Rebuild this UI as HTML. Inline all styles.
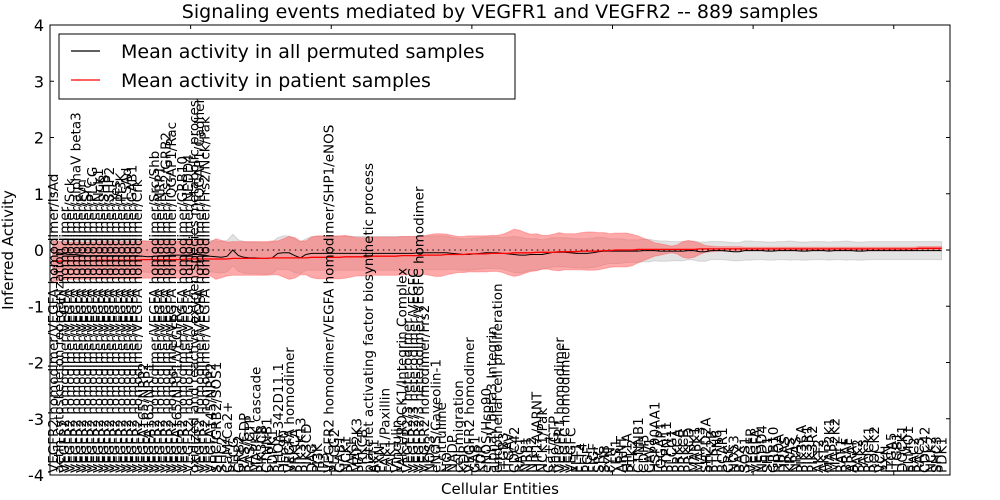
<!DOCTYPE html>
<html><head><meta charset="utf-8">
<style>
html,body{margin:0;padding:0;background:#fff;}
svg{display:block;font-family:"DejaVu Sans","Liberation Sans",sans-serif;}
</style></head>
<body>
<svg id="chart" width="1000" height="500" viewBox="0 0 1000 500" xmlns="http://www.w3.org/2000/svg">
<rect x="0" y="0" width="1000" height="500" fill="#fff"/>
<g id="plot"></g>
<text x="500" y="18" text-anchor="middle" font-size="19">Signaling events mediated by VEGFR1 and VEGFR2 -- 889 samples</text>
<text x="500" y="494" text-anchor="middle" font-size="15">Cellular Entities</text>
<text transform="translate(13,250) rotate(-90)" text-anchor="middle" font-size="15">Inferred Activity</text>
<g>
<rect x="59" y="34" width="456" height="65" fill="#fff" stroke="#000" stroke-width="1"/>
<line x1="71" y1="51" x2="100" y2="51" stroke="#000" stroke-width="1.2"/>
<text x="121" y="58" font-size="19">Mean activity in all permuted samples</text>
<line x1="71" y1="80" x2="100" y2="80" stroke="#f00" stroke-width="1.2"/>
<text x="121" y="87" font-size="19">Mean activity in patient samples</text>
</g>
</svg>
<script>
const labels = ["VEGFR2 homodimer/VEGFA homodimer/IsAd","actin cytoskeleton reorganization","VEGFR2 homodimer/VEGFA homodimer","VEGFR2 homodimer/VEGFA homodimer/Sck","VEGFR2 homodimer/VEGFA homodimer/alphaV beta3","VEGFR2 homodimer/VEGFA homodimer/Fyn","VEGFR2 homodimer/VEGFA homodimer/Src","VEGFR2 homodimer/VEGFA homodimer/PLCG","VEGFR2 homodimer/VEGFA homodimer/Nck1","VEGFR2 homodimer/VEGFA homodimer/SHB","VEGFR2 homodimer/VEGFA homodimer/SHP2","VEGFR2 homodimer/VEGFA homodimer/Yes","VEGFR2 homodimer/VEGFA homodimer/PI3K","VEGFR2 homodimer/VEGFA homodimer/TSAd","VEGFR2 homodimer/VEGFA homodimer/GAB1","VEGFR2 homodimer/VEGFA homodimer/Crk","VEGFA165/NRP2","VEGFA165/NRP1","VEGFR2 homodimer/VEGFA homodimer/Src/Shb","VEGFR2 homodimer/VEGFA homodimer/NRP1","VEGFR2 homodimer/VEGFA homodimer/Frs2/GRB2","VEGFR2 homodimer/VEGFA homodimer/IQGAP1/Rac","VEGFA165/NRP1/VEGFR2","VEGFR2 homodimer/VEGFA homodimer/GRB10","VEGFR2 homodimer/VEGFA homodimer/NEDD4","oxidized and reactive oxygen species metabolic process","VEGFR2 homodimer/VEGFA homodimer/IQGAP1/Cadherin","VEGFR2 homodimer/VEGFA homodimer/Frs2/Nck/Pak","VEGFA145/NRP2","SHC/GRB2/SOS1","SHC2","CaM/Ca2+","PLCG","GRB2","RAS/GDP","RAS/GTP","MAPKK cascade","PIK3CB","CTNNB1","PDPK1","RHOA-342D11.1","Hsp90","VEGFA homodimer","PRKCA","PIK3K13","PIK3CD","DAG","PI3K","IP3","VEGFR2 homodimer/VEGFA homodimer/SHP1/eNOS","PLCG2","GAB1","NCK1","PAK1","MAP2K3","PRKCB","platelet activating factor biosynthetic process","AKT1","PXN","FAK1/Paxillin","FAK1","Vinculin","FAK1/ROCK1/Integrin Complex","VEGFR2/3 heterodimer","VEGFR2/3 heterodimer/VEGFC","VEGFR2/3 heterodimer/VEGFC homodimer","VEGFR2 homodimer/Frs2","NOS3","eNOS/Caveolin-1","L-citrulline","NO","NADP","cell migration","KDR","VEGFR2 homodimer","GAB1","KDR","eNOS/Hsp90","alphaV beta3 Integrin","endothelial cell proliferation","ITGB3","ITGAV","CDC42","RAC1","NRP1","NRP2","HIF1A/ARNT","NCK1/Pak","Ca++","Rho/GTP","VEGFR1 homodimer","VEGFC homodimer","VEGFC","FLT1","FLT4","PGF","FIGF","SRC","SHB","FYN","YES1","ARNT","HIF1A","PTK2","CTNNB1","CDH5","CAV1","HSP90AA1","IQGAP1","PTPN11","PLCG1","PRKCA","PRKCB","PRKCD","MAPK1","MAPK3","SH2D2A","PTK2B","PTPN6","BCAR1","CRK","NOS3","BAX","SOS1","VEGFB","VEGFA","NEDD4","SHC1","GRB10","RHOA","HRAS","KRAS","NRAS","PIK3CA","PIK3R1","PIK3R2","AKT2","AKT3","MAP2K1","MAP2K2","RAF1","BRAF","ARAF","PAK2","PAK3","ROCK1","ROCK2","VCL","PXN","ITGA5","ITGB1","DOCK1","ELMO1","RAC2","RAC3","CDC42","NCK2","SHC3","PDK1","VEGFC","VEGFD","FLT1","KDR","FLT4","NRP1","VEGFB","NEDD4"];
const permMean = [-0.06,-0.05,-0.07,-0.08,-0.08,-0.09,-0.1,-0.1,-0.1,-0.1,-0.1,-0.1,-0.1,-0.1,-0.1,-0.1,-0.11,-0.12,-0.11,-0.1,-0.1,-0.09,-0.09,-0.09,-0.09,-0.08,-0.08,-0.09,-0.11,-0.12,-0.13,-0.11,0.0,-0.1,-0.13,-0.14,-0.14,-0.15,-0.15,-0.14,-0.06,-0.05,-0.05,-0.1,-0.14,-0.08,-0.06,-0.06,-0.06,-0.06,-0.06,-0.06,-0.06,-0.06,-0.06,-0.06,-0.06,-0.06,-0.06,-0.06,-0.06,-0.06,-0.06,-0.06,-0.06,-0.05,-0.05,-0.05,-0.05,-0.05,-0.05,-0.06,-0.07,-0.08,-0.08,-0.07,-0.06,-0.05,-0.05,-0.05,-0.06,-0.07,-0.08,-0.09,-0.09,-0.08,-0.08,-0.08,-0.06,-0.04,-0.04,-0.04,-0.05,-0.06,-0.06,-0.06,-0.05,-0.03,-0.02,-0.02,-0.02,-0.02,-0.02,-0.02,-0.02,-0.01,-0.01,-0.01,-0.02,-0.02,-0.02,-0.02,-0.02,-0.01,-0.01,-0.03,-0.03,-0.01,-0.01,-0.01,-0.02,-0.03,-0.03,-0.01,-0.01,-0.01,-0.01,-0.02,-0.02,-0.01,-0.01,-0.01,-0.01,-0.02,-0.02,-0.01,-0.01,-0.01,-0.02,-0.01,-0.01,-0.01,-0.01,-0.02,-0.02,-0.01,-0.01,-0.01,-0.01,-0.01,-0.01,-0.01,-0.01,-0.01,-0.01,-0.01,-0.01,-0.01,-0.01,-0.01,0.0];
const patientMean = [-0.2,-0.2,-0.19,-0.19,-0.19,-0.19,-0.19,-0.19,-0.18,-0.18,-0.18,-0.18,-0.18,-0.18,-0.18,-0.18,-0.17,-0.17,-0.17,-0.17,-0.17,-0.17,-0.17,-0.17,-0.16,-0.16,-0.16,-0.16,-0.16,-0.16,-0.16,-0.16,-0.15,-0.15,-0.15,-0.15,-0.15,-0.15,-0.15,-0.14,-0.14,-0.14,-0.14,-0.14,-0.14,-0.14,-0.13,-0.13,-0.13,-0.13,-0.13,-0.13,-0.12,-0.12,-0.12,-0.12,-0.12,-0.11,-0.11,-0.11,-0.11,-0.11,-0.1,-0.1,-0.1,-0.1,-0.09,-0.09,-0.09,-0.09,-0.08,-0.08,-0.08,-0.08,-0.07,-0.07,-0.07,-0.07,-0.06,-0.06,-0.06,-0.06,-0.05,-0.05,-0.05,-0.05,-0.04,-0.04,-0.04,-0.04,-0.03,-0.03,-0.03,-0.03,-0.02,-0.02,-0.02,-0.02,-0.01,-0.01,0.0,0.0,0.0,0.0,0.01,0.01,0.01,0.01,0.01,0.01,0.01,0.01,0.01,0.01,0.01,0.02,0.02,0.02,0.02,0.02,0.02,0.02,0.02,0.02,0.02,0.02,0.02,0.02,0.02,0.02,0.02,0.02,0.02,0.02,0.02,0.02,0.02,0.02,0.02,0.02,0.02,0.02,0.02,0.02,0.02,0.02,0.02,0.02,0.02,0.02,0.02,0.02,0.02,0.02,0.03,0.03,0.03,0.03,0.03,0.03,0.03];
const patientSpread = [0.36,0.35,0.34,0.33,0.33,0.33,0.33,0.33,0.33,0.33,0.33,0.33,0.33,0.33,0.33,0.33,0.33,0.33,0.33,0.33,0.33,0.33,0.33,0.33,0.33,0.33,0.33,0.33,0.3,0.36,0.33,0.3,0.3,0.3,0.3,0.3,0.3,0.3,0.3,0.3,0.3,0.34,0.38,0.36,0.3,0.3,0.36,0.38,0.38,0.38,0.38,0.38,0.38,0.36,0.34,0.34,0.34,0.34,0.34,0.34,0.34,0.34,0.34,0.34,0.34,0.34,0.34,0.36,0.38,0.38,0.36,0.34,0.32,0.32,0.32,0.32,0.32,0.32,0.32,0.32,0.34,0.38,0.42,0.4,0.36,0.33,0.33,0.3,0.3,0.32,0.34,0.32,0.32,0.32,0.33,0.34,0.34,0.33,0.32,0.3,0.3,0.3,0.3,0.28,0.24,0.2,0.16,0.12,0.1,0.08,0.06,0.08,0.14,0.16,0.14,0.1,0.06,0.05,0.04,0.04,0.04,0.04,0.04,0.03,0.03,0.03,0.03,0.03,0.03,0.03,0.03,0.03,0.03,0.03,0.03,0.03,0.03,0.03,0.03,0.03,0.03,0.03,0.03,0.03,0.03,0.03,0.03,0.03,0.03,0.03,0.03,0.03,0.03,0.03,0.03,0.03,0.03,0.03,0.03,0.03,0.03,0.03,0.03,0.03];
const permSpread = [0.3,0.28,0.28,0.28,0.28,0.28,0.28,0.28,0.28,0.28,0.28,0.28,0.28,0.28,0.28,0.28,0.28,0.28,0.28,0.28,0.28,0.28,0.28,0.28,0.28,0.28,0.28,0.28,0.28,0.28,0.28,0.28,0.28,0.28,0.28,0.28,0.28,0.28,0.28,0.28,0.28,0.3,0.3,0.3,0.28,0.28,0.3,0.3,0.3,0.3,0.3,0.3,0.3,0.3,0.3,0.3,0.3,0.3,0.3,0.3,0.3,0.3,0.3,0.3,0.3,0.3,0.3,0.3,0.3,0.3,0.3,0.28,0.28,0.28,0.28,0.28,0.28,0.28,0.28,0.28,0.28,0.3,0.32,0.32,0.3,0.28,0.28,0.26,0.26,0.26,0.26,0.26,0.26,0.26,0.26,0.26,0.26,0.26,0.24,0.22,0.22,0.22,0.2,0.2,0.2,0.2,0.2,0.18,0.18,0.18,0.17,0.17,0.17,0.16,0.17,0.17,0.17,0.16,0.16,0.16,0.16,0.16,0.16,0.17,0.17,0.16,0.16,0.16,0.16,0.16,0.16,0.17,0.16,0.16,0.16,0.16,0.16,0.16,0.16,0.16,0.16,0.17,0.16,0.16,0.16,0.16,0.16,0.16,0.16,0.16,0.16,0.16,0.16,0.16,0.16,0.16,0.16,0.16,0.16];
const yTicks = [-4,-3,-2,-1,0,1,2,3,4];

const NS = "http://www.w3.org/2000/svg";
const n = Math.min(labels.length, permMean.length, patientMean.length, patientSpread.length, permSpread.length);
const L = 50, R = 950, T = 25, B = 475;
const xMin = 0, xMax = n + 1, yMin = -4, yMax = 4;
function xs(i){ return L + (i + 0.5 - xMin) / (xMax - xMin) * (R - L); }
function ys(v){ return B - (v - yMin) / (yMax - yMin) * (B - T); }
const plot = document.getElementById('plot');
function mk(tag, attrs, parent){ const e = document.createElementNS(NS, tag); for (const k in attrs) e.setAttribute(k, attrs[k]); (parent||plot).appendChild(e); return e; }
function band(mean, spread){
  let up = [], dn = [];
  for (let i = 0; i < n; i++){ up.push(xs(i).toFixed(1)+','+ys(mean[i]+spread[i]).toFixed(1)); dn.unshift(xs(i).toFixed(1)+','+ys(mean[i]-spread[i]).toFixed(1)); }
  return up.concat(dn).join(' ');
}
function line(mean){ let p=[]; for(let i=0;i<n;i++) p.push(xs(i).toFixed(1)+','+ys(mean[i]).toFixed(1)); return p.join(' '); }
const g1 = mk('polygon', {points: band(permMean, permSpread), fill:'#c8c8c8', 'fill-opacity':'0.5', stroke:'#aaa', 'stroke-opacity':'0.4'});


const r1 = mk('polygon', {points: band(patientMean, patientSpread), fill:'#f55', 'fill-opacity':'0.5', stroke:'#f55', 'stroke-opacity':'0.4'});


const z = mk('line', {x1:xs(0), x2:xs(n-1), y1:ys(0), y2:ys(0), stroke:'#000', 'stroke-dasharray':'1.5,4', 'stroke-width':'1'});


const bl = mk('polyline', {points: line(permMean), fill:'none', stroke:'#000', 'stroke-width':'1'});


const rl = mk('polyline', {points: line(patientMean), fill:'none', stroke:'#f00', 'stroke-width':'1.3'});


const ax = mk('rect', {x:L, y:T, width:R-L, height:B-T, fill:'none', stroke:'#000', 'stroke-width':'1'});


for (const t of yTicks){
  const y = ys(t);
  mk('line', {x1:L, x2:L+4, y1:y, y2:y, stroke:'#000'});
  mk('line', {x1:R-4, x2:R, y1:y, y2:y, stroke:'#000'});
  const tx = mk('text', {x:L-6, y:y+6, 'text-anchor':'end', 'font-size':'16'});
  tx.textContent = t;
  
  
}
for (let k = 25; k < xMax; k += 25){
  const x = L + k/(xMax-xMin)*(R-L);
  mk('line', {x1:x, x2:x, y1:T, y2:T+4, stroke:'#000'});
  mk('line', {x1:x, x2:x, y1:B-4, y2:B, stroke:'#000'});
}
for (let i = 0; i < n; i++){
  const x = xs(i);
  const tx = mk('text', {transform:'translate('+(x+5).toFixed(1)+','+(B-2)+') rotate(-90)', 'font-size':'13.5'});
  tx.textContent = labels[i];
  
  
}
</script>
</body></html>
